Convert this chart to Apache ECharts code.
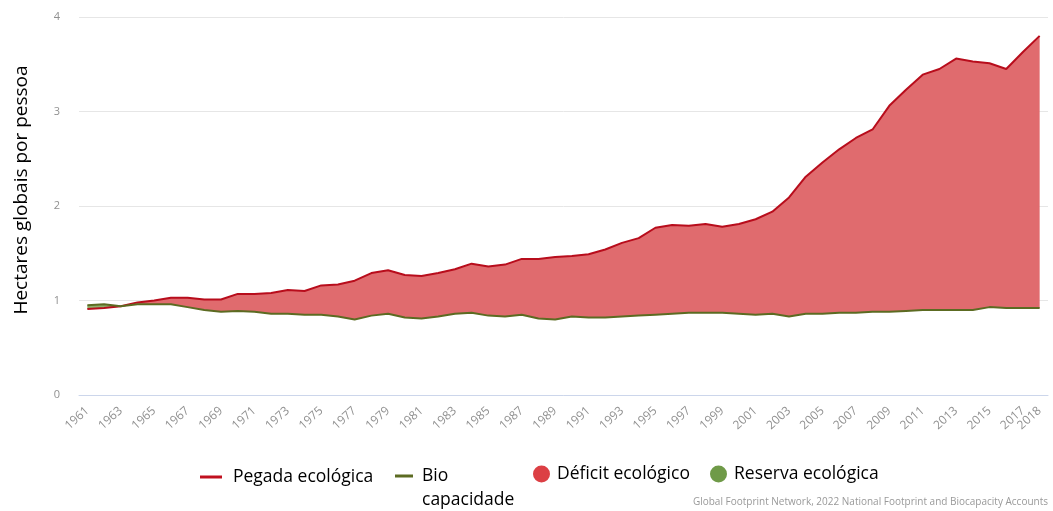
<!DOCTYPE html>
<html>
<head>
<meta charset="utf-8">
<script src="https://cdn.jsdelivr.net/npm/echarts@6/dist/echarts.min.js"></script>
<style>
  html, body { margin: 0; padding: 0; background: #fff; }
  #main { width: 1053px; height: 511px; }
</style>
</head>
<body>
<div id="main"></div>
<script>
// anos
var years = [];
for (var y = 1961; y <= 2018; y++) years.push(String(y));

// Pegada ecológica (hectares globais por pessoa)
var pegada = [
  0.91, 0.92, 0.94, 0.98, 1.00, 1.03, 1.03, 1.01, 1.01, 1.07,
  1.07, 1.08, 1.11, 1.10, 1.16, 1.17, 1.21, 1.29, 1.32, 1.27,
  1.26, 1.29, 1.33, 1.39, 1.36, 1.38, 1.44, 1.44, 1.46, 1.47,
  1.49, 1.54, 1.61, 1.66, 1.77, 1.80, 1.79, 1.81, 1.78, 1.81,
  1.86, 1.94, 2.09, 2.31, 2.46, 2.60, 2.72, 2.81, 3.06, 3.23,
  3.39, 3.45, 3.56, 3.53, 3.51, 3.45, 3.63, 3.80
];

// Biocapacidade
var biocap = [
  0.95, 0.96, 0.94, 0.96, 0.96, 0.96, 0.93, 0.90, 0.88, 0.89,
  0.88, 0.86, 0.86, 0.85, 0.85, 0.83, 0.80, 0.84, 0.86, 0.82,
  0.81, 0.83, 0.86, 0.87, 0.84, 0.83, 0.85, 0.81, 0.80, 0.83,
  0.82, 0.82, 0.83, 0.84, 0.85, 0.86, 0.87, 0.87, 0.87, 0.86,
  0.85, 0.86, 0.83, 0.86, 0.86, 0.87, 0.87, 0.88, 0.88, 0.89,
  0.90, 0.90, 0.90, 0.90, 0.93, 0.92, 0.92, 0.92
];

var yTicks = [0, 1, 2, 3, 4];

// faixas empilhadas: base (min), deficit, reserva
var base = [], deficit = [], reserva = [];
for (var i = 0; i < years.length; i++) {
  base.push(Math.min(pegada[i], biocap[i]));
  deficit.push(+Math.max(pegada[i] - biocap[i], 0).toFixed(2));
  reserva.push(+Math.max(biocap[i] - pegada[i], 0).toFixed(2));
}

var chart = echarts.init(document.getElementById('main'));

// rótulos a cada 2 anos, mais o último
var showLabel = function (idx) {
  return idx % 2 === 0 || idx === years.length - 1;
};

// texto da legenda com um pequeno espaço antes
function legendStyle(gap, lineHeight) {
  return {
    fontSize: 17.5, color: '#000', fontFamily: 'Open Sans',
    lineHeight: lineHeight,
    rich: {
      s: { width: gap },
      t: { fontSize: 17.5, color: '#000', fontFamily: 'Open Sans', lineHeight: lineHeight }
    }
  };
}

var option = {
  backgroundColor: '#fff',
  animation: false,
  grid: { left: 79, right: 5, top: 17, bottom: 116 },
  xAxis: {
    type: 'category',
    data: years,
    boundaryGap: true,
    axisLine: { lineStyle: { color: '#ccd6eb' } },
    axisTick: {
      alignWithLabel: true,
      interval: showLabel,
      length: 12,
      lineStyle: { color: '#ccd6eb' }
    },
    axisLabel: {
      interval: 0,
      formatter: function (val, idx) { return showLabel(idx) ? val : ''; },
      hideOverlap: false,
      rotate: 42,
      margin: 14,
      color: '#909090',
      fontSize: 12,
      fontFamily: 'Open Sans'
    }
  },
  yAxis: {
    type: 'value',
    min: yTicks[0],
    max: yTicks[yTicks.length - 1],
    interval: 1,
    axisLine: { show: false },
    axisTick: { show: false },
    axisLabel: { color: '#909090', fontSize: 11, margin: 19, fontFamily: 'Open Sans' },
    splitLine: { lineStyle: { color: '#e6e6e6' } }
  },
  legend: [
    {
      data: ['Pegada ecológica'],
      left: 200, top: 467, padding: 0,
      icon: 'rect', itemWidth: 22, itemHeight: 3,
      formatter: function (name) { return '{s|}{t|' + name + '}'; },
      textStyle: legendStyle(6, 20)
    },
    {
      data: ['Bio capacidade'],
      left: 395, top: 440, padding: 0,
      icon: 'rect', itemWidth: 18, itemHeight: 3,
      formatter: function () { return '\n{s|}{t|Bio}\n{s|}{t|capacidade}'; },
      textStyle: legendStyle(4, 24)
    },
    {
      data: ['Déficit ecológico'],
      left: 533, top: 464, padding: 0,
      icon: 'circle', itemWidth: 17, itemHeight: 17,
      formatter: function (name) { return '{s|}{t|' + name + '}'; },
      textStyle: legendStyle(2, 20)
    },
    {
      data: ['Reserva ecológica'],
      left: 710, top: 464, padding: 0,
      icon: 'circle', itemWidth: 17, itemHeight: 17,
      formatter: function (name) { return '{s|}{t|' + name + '}'; },
      textStyle: legendStyle(2, 20)
    }
  ],
  graphic: [
    {
      type: 'text',
      x: 22, y: 190,
      rotation: Math.PI / 2,
      style: {
        text: 'Hectares globais por pessoa',
        fontSize: 19,
        fontFamily: 'Open Sans',
        fill: '#000',
        align: 'center',
        verticalAlign: 'middle'
      }
    },
    {
      type: 'text',
      right: 5, top: 497,
      style: {
        text: 'Global Footprint Network, 2022 National Footprint and Biocapacity Accounts',
        fontSize: 10,
        fontFamily: 'Open Sans',
        fill: '#999'
      }
    }
  ],
  series: [
    {
      name: 'base',
      type: 'line',
      stack: 'faixa',
      data: base,
      symbol: 'none',
      lineStyle: { opacity: 0 },
      areaStyle: { opacity: 0 },
      silent: true
    },
    {
      name: 'Déficit ecológico',
      type: 'line',
      stack: 'faixa',
      data: deficit,
      symbol: 'none',
      itemStyle: { color: '#dc3f44' },
      lineStyle: { opacity: 0 },
      areaStyle: { color: '#e06b6e', opacity: 1 }
    },
    {
      name: 'Reserva ecológica',
      type: 'line',
      stack: 'faixa',
      data: reserva,
      symbol: 'none',
      itemStyle: { color: '#6f9a48' },
      lineStyle: { opacity: 0 },
      areaStyle: { color: '#8fb06a', opacity: 1 }
    },
    {
      name: 'Pegada ecológica',
      type: 'line',
      data: pegada,
      symbol: 'none',
      itemStyle: { color: '#c0101f' },
      lineStyle: { color: '#b80d1c', width: 2 },
      z: 5
    },
    {
      name: 'Bio capacidade',
      type: 'line',
      data: biocap,
      symbol: 'none',
      itemStyle: { color: '#5c6b22' },
      lineStyle: { color: '#5c6b22', width: 2 },
      z: 6
    }
  ]
};

chart.setOption(option);
</script>
</body>
</html>
